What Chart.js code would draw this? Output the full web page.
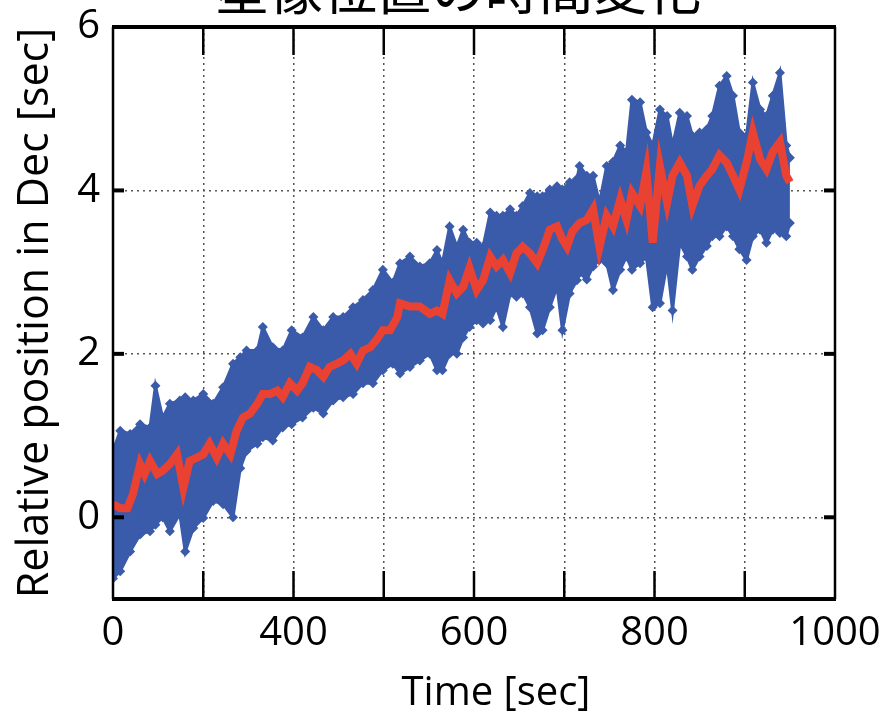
<!DOCTYPE html>
<html>
<head>
<meta charset="utf-8">
<script src="https://cdn.jsdelivr.net/npm/chart.js@4"></script>
<style>
  html, body { margin: 0; padding: 0; background: #fff; overflow: hidden; }
  #wrap { width: 880px; height: 713px; }
</style>
</head>
<body>
<div id="wrap"><canvas id="pos_chart" width="880" height="713"></canvas></div>
<script>
// Title and axis texts
const chartTitle = '星像位置の時間変化'
const xTitle = 'Time [sec]'
const yTitle = 'Relative position in Dec [sec]'

// Tick values and the labels printed on them (the first x tick is printed as "0")
const xTickValues = [200, 300, 400, 500, 600, 700, 800, 900, 1000]
const xTickText = ['0', '', '400', '', '600', '', '800', '', '1000']
const yTickValues = [-1, 0, 2, 4, 6]
const yTickText = ['', '0', '2', '4', '6']

const bandTime = [200, 208, 219, 230, 241, 247, 255, 263, 274, 280, 289, 300, 311, 322, 333, 341, 348, 360, 366, 377,
  388, 398, 410, 422, 433, 444, 455, 466, 477, 488, 499, 510, 518, 529, 540, 551, 559, 565, 573, 581,
  588, 595, 603, 610, 618, 625, 632, 640, 647, 654, 662, 670, 676, 684, 692, 698, 706, 714, 717, 725,
  732, 739, 747, 754, 762, 769, 775, 784, 791, 798, 806, 814, 820, 828, 836, 842, 850, 858, 864, 872,
  880, 887, 894, 902, 909, 917, 924, 931, 939, 946, 950]
const bandUpper = [0.81, 1.06, 1.02, 1.14, 1.10, 1.61, 1.22, 1.39, 1.43, 1.47, 1.43, 1.51, 1.39, 1.59, 1.88, 1.96, 2.04, 2.04, 2.33, 2.08,
  2.04, 2.29, 2.20, 2.45, 2.29, 2.45, 2.45, 2.57, 2.66, 2.78, 3.03, 2.87, 3.11, 3.19, 3.07, 3.11, 3.27, 3.11, 3.56, 3.31,
  3.52, 3.36, 3.36, 3.31, 3.73, 3.69, 3.69, 3.77, 3.69, 3.81, 3.97, 3.93, 3.93, 4.01, 4.05, 4.01, 4.10, 4.14, 4.30, 4.18,
  4.18, 3.85, 4.30, 4.35, 4.55, 4.47, 5.11, 5.08, 4.71, 4.55, 4.99, 4.91, 4.55, 4.95, 4.91, 4.67, 4.71, 4.75, 4.91, 5.28,
  5.40, 5.16, 4.71, 4.67, 5.32, 4.99, 4.91, 5.16, 5.44, 4.55, 4.40]
const bandLower = [-0.75, -0.66, -0.42, -0.21, -0.17, -0.09, 0.00, -0.17, 0.04, -0.42, -0.13, -0.01, 0.20, 0.16, 0.00, 0.60, 0.81, 0.90, 0.98, 0.94,
  1.10, 1.14, 1.22, 1.34, 1.27, 1.43, 1.47, 1.51, 1.64, 1.64, 1.80, 1.88, 1.76, 1.84, 1.92, 2.00, 1.80, 1.80, 2.00, 2.00,
  2.20, 2.33, 2.41, 2.37, 2.41, 2.57, 2.33, 2.74, 2.70, 2.74, 2.57, 2.25, 2.29, 2.57, 2.82, 2.29, 2.74, 2.90, 2.99, 2.91,
  3.07, 3.15, 3.11, 2.78, 3.03, 3.19, 3.03, 3.11, 3.19, 2.57, 2.62, 3.11, 2.53, 3.36, 3.19, 3.03, 3.19, 3.32, 3.44, 3.44,
  3.56, 3.44, 3.28, 3.15, 3.44, 3.52, 3.36, 3.52, 3.48, 3.44, 3.60]

// Red running mean
const meanTime = [200, 208, 216, 222, 230, 235, 241, 249, 255, 263, 271, 278, 285, 293, 300, 307, 315, 322, 330, 337,
  344, 352, 360, 366, 374, 382, 388, 396, 404, 410, 418, 426, 433, 440, 448, 455, 463, 470, 477, 485,
  492, 499, 507, 515, 518, 529, 540, 551, 559, 565, 573, 581, 588, 595, 603, 610, 618, 625, 632, 640,
  647, 654, 662, 670, 676, 684, 692, 698, 703, 709, 717, 725, 732, 739, 747, 754, 762, 769, 775, 784,
  791, 798, 806, 814, 820, 828, 836, 842, 850, 858, 864, 872, 880, 887, 894, 902, 909, 917, 924, 931,
  939, 946, 950]
const meanPos = [0.16, 0.11, 0.11, 0.28, 0.65, 0.53, 0.69, 0.53, 0.57, 0.65, 0.77, 0.36, 0.69, 0.73, 0.77, 0.90, 0.73, 0.90, 0.77, 1.06,
  1.22, 1.27, 1.39, 1.51, 1.51, 1.55, 1.47, 1.64, 1.55, 1.64, 1.84, 1.80, 1.72, 1.84, 1.88, 1.92, 2.00, 1.88, 2.04, 2.08,
  2.17, 2.29, 2.29, 2.45, 2.62, 2.58, 2.58, 2.49, 2.53, 2.49, 2.90, 2.74, 2.82, 3.05, 2.78, 2.90, 3.19, 3.07, 3.15, 2.99,
  3.23, 3.31, 3.23, 3.11, 3.27, 3.52, 3.56, 3.40, 3.31, 3.50, 3.60, 3.64, 3.77, 3.31, 3.69, 3.56, 3.89, 3.64, 3.97, 3.81,
  4.23, 3.36, 4.30, 3.85, 4.18, 4.34, 4.18, 3.81, 4.06, 4.18, 4.26, 4.43, 4.34, 4.18, 4.01, 4.34, 4.71, 4.38, 4.26, 4.47,
  4.59, 4.18, 4.10]

const blue = 'rgb(58, 90, 170)'
const red = 'rgb(234, 66, 50)'
const fontFamily = "'Open Sans', 'Noto Sans', sans-serif"
const labelFont = { family: fontFamily, size: 40, lineHeight: 1 }

let upperPts = bandTime.map((t, i) => ({ x: t, y: bandUpper[i] }))
let lowerPts = bandTime.map((t, i) => ({ x: t, y: bandLower[i] }))
let meanPts = meanTime.map((t, i) => ({ x: t, y: meanPos[i] }))

// frame, inner tick marks, x title and the (clipped) title
const framePlugin = {
  id: 'frame',
  afterDraw(chart) {
    const c = chart.ctx
    const a = chart.chartArea
    const xs = chart.scales.x
    const ys = chart.scales.y
    c.save()
    c.strokeStyle = '#000'
    c.lineWidth = 2.5
    xTickValues.slice(1, -1).forEach(v => {
      let px = xs.getPixelForValue(v)
      c.beginPath(); c.moveTo(px, a.bottom); c.lineTo(px, a.bottom - 28); c.stroke()
      c.beginPath(); c.moveTo(px, a.top); c.lineTo(px, a.top + 28); c.stroke()
    })
    c.lineWidth = 4
    yTickValues.slice(1, -1).forEach(v => {
      let py = ys.getPixelForValue(v)
      c.beginPath(); c.moveTo(a.left, py); c.lineTo(a.left + 11, py); c.stroke()
      c.beginPath(); c.moveTo(a.right, py); c.lineTo(a.right - 11, py); c.stroke()
    })
    c.lineWidth = 2.5
    c.beginPath(); c.moveTo(a.left, a.top); c.lineTo(a.left, a.bottom); c.stroke()
    c.beginPath(); c.moveTo(a.right, a.top); c.lineTo(a.right, a.bottom); c.stroke()
    c.lineWidth = 4
    c.beginPath(); c.moveTo(a.left - 1, a.top); c.lineTo(a.right + 1, a.top); c.stroke()
    c.beginPath(); c.moveTo(a.left - 1, a.bottom); c.lineTo(a.right + 1, a.bottom); c.stroke()
    c.fillStyle = '#000'
    c.textAlign = 'center'
    // x axis title, a little right of the plot centre as in the original
    c.font = "40px 'Open Sans'"
    c.textBaseline = 'alphabetic'
    c.fillText(xTitle, 496, 705)
    // title sits partly above the picture
    c.font = "54px 'Noto Sans CJK JP'"
    c.fillText(chartTitle, 458, 10)
    c.restore()
  }
}

const gridColor = (ctx, skip) => skip.includes(ctx.tick.value) ? 'rgba(0,0,0,0)' : '#555'

let ctx = document.getElementById('pos_chart')
new Chart(ctx, {
  type: 'line',
  data: {
    datasets: [
      {
        label: 'mean',
        data: meanPts,
        borderColor: red,
        borderWidth: 8,
        pointRadius: 0,
        tension: 0,
        order: 0
      },
      {
        label: 'upper',
        data: upperPts,
        borderColor: blue,
        backgroundColor: blue,
        borderWidth: 3,
        pointStyle: 'rectRot',
        pointRadius: 5,
        pointBackgroundColor: blue,
        pointBorderWidth: 0,
        fill: '+1',
        tension: 0,
        order: 1
      },
      {
        label: 'lower',
        data: lowerPts,
        borderColor: blue,
        backgroundColor: blue,
        borderWidth: 3,
        pointStyle: 'rectRot',
        pointRadius: 5,
        pointBackgroundColor: blue,
        pointBorderWidth: 0,
        fill: false,
        tension: 0,
        order: 2
      }
    ]
  },
  options: {
    responsive: false,
    animation: false,
    layout: { padding: { top: 27, right: 45, left: 0, bottom: 0 } },
    plugins: {
      legend: { display: false },
      tooltip: { enabled: false }
    },
    scales: {
      x: {
        type: 'linear',
        min: 200,
        max: 1000,
        afterFit: scale => {
          scale.height = 114
          scale.paddingLeft = 0
          scale.paddingRight = 0
        },
        afterBuildTicks: scale => { scale.ticks = xTickValues.map(v => ({ value: v })) },
        ticks: {
          autoSkip: false,
          maxRotation: 0,
          color: '#000',
          font: labelFont,
          padding: 15,
          callback: (v) => xTickText[xTickValues.indexOf(v)]
        },
        grid: {
          drawTicks: false,
          lineWidth: 1.5,
          color: c => gridColor(c, [200, 1000])
        },
        border: { display: false, dash: [2, 4] },
        title: { display: false }
      },
      y: {
        type: 'linear',
        min: -1,
        max: 6,
        afterFit: scale => {
          scale.width = 113
          scale.paddingTop = 0
          scale.paddingBottom = 0
        },
        afterBuildTicks: scale => { scale.ticks = yTickValues.map(v => ({ value: v })) },
        ticks: {
          color: '#000',
          font: labelFont,
          padding: 13,
          callback: (v) => yTickText[yTickValues.indexOf(v)]
        },
        grid: {
          drawTicks: false,
          lineWidth: 1.5,
          color: c => gridColor(c, [-1, 6])
        },
        border: { display: false, dash: [2, 4] },
        title: { display: true, text: yTitle, color: '#000', font: { family: fontFamily, size: 43 }, padding: { top: 10 } }
      }
    }
  },
  plugins: [framePlugin]
})
</script>
</body>
</html>
